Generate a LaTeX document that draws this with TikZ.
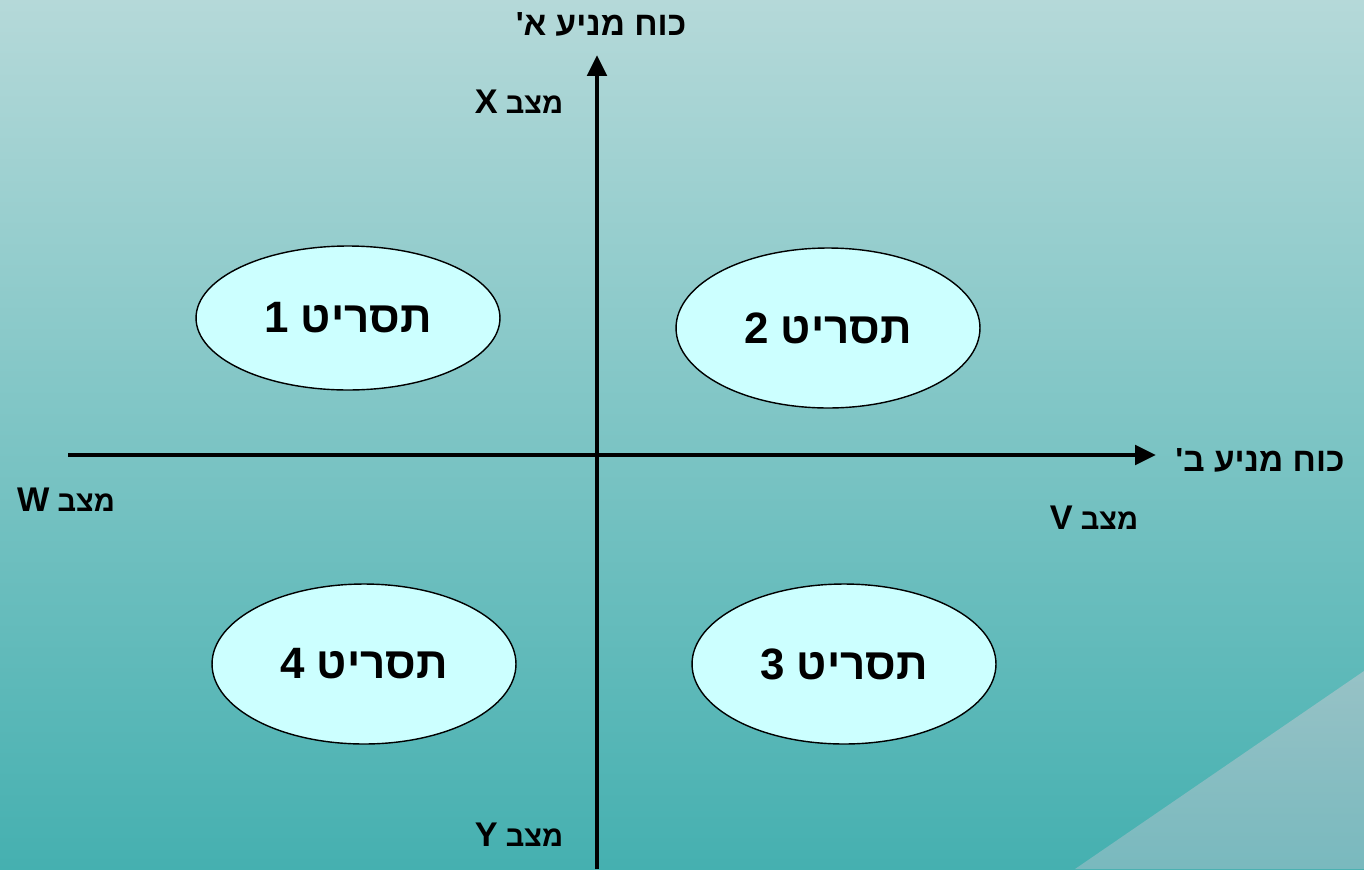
\documentclass[tikz,border=0pt]{standalone}
\usepackage{fontspec}
\setmainfont{Liberation Sans}
\newfontfamily\hebfont[Script=Hebrew]{Liberation Sans}
\TeXXeTstate=1
\usepackage{tikz}
\usetikzlibrary{shapes.geometric, arrows.meta, positioning}
\definecolor{BgTop}{HTML}{B5D9D9}
\definecolor{BgBottom}{HTML}{45B0B0}
\definecolor{CornerTop}{HTML}{97C2C6}
\definecolor{CornerBottom}{HTML}{79B9BE}
\definecolor{PlanFill}{HTML}{CCFFFF}
\newcommand{\stateletter}[1]{{\fontsize{19.5}{19}\selectfont #1}}

\begin{document}
\begin{tikzpicture}[x=0.02cm, y=-0.02cm, >={Triangle[length=0.42cm, width=0.38cm]},
  plan/.style={ellipse, draw=black, line width=0.8pt, fill=PlanFill,
               minimum width=6.08cm, minimum height=3.2cm, inner sep=0pt,
               font=\hebfont\bfseries\fontsize{25}{29}\selectfont},
  axislbl/.style={font=\hebfont\bfseries\fontsize{19}{22}\selectfont, inner sep=1pt},
  statelbl/.style={font=\hebfont\bfseries\fontsize{16.5}{19}\selectfont, inner sep=1pt},
  axis/.style={->, line width=2.8pt, color=black}
]

%% ---- Background ----
\useasboundingbox (0,0) rectangle (1364,869);
\shade[top color=BgTop, bottom color=BgBottom] (0,0) rectangle (1364,869);
\shade[top color=CornerTop, bottom color=CornerBottom]
  (1075,869) -- (1364,671) -- (1364,869) -- cycle;

%% ---- Axis end points ----
\coordinate (ybot) at (597,869);
\coordinate (ytop) at (597,55);
\coordinate (xleft) at (68,455);
\coordinate (xright) at (1156,455);

%% ---- Axes ----
\draw[axis] (ybot) -- (ytop);
\draw[axis] (xleft) -- (xright);

%% ---- Axis labels ----
\node[axislbl] (forceA) at (601,24) {\beginR כוח מניע א\textquotesingle\endR};
\node[axislbl] (forceB) at (1260,460) {\beginR כוח מניע ב\textquotesingle\endR};

%% ---- States ----
\node[statelbl] (stateX) at (519,102) {\beginR מצב \stateletter{X}\endR};
\node[statelbl] (stateW) at (66,500) {\beginR מצב \stateletter{W}\endR};
\node[statelbl] (stateV) at (1094,518) {\beginR מצב \stateletter{V}\endR};
\node[statelbl] (stateY) at (519,835) {\beginR מצב \stateletter{Y}\endR};

%% ---- Scenarios ----
\node[plan, minimum height=2.88cm] (plan1) at (348,318) {\beginR תסריט 1\endR};
\node[plan] (plan2) at (828,328) {\beginR תסריט 2\endR};
\node[plan] (plan3) at (844,664) {\beginR תסריט 3\endR};
\node[plan] (plan4) at (364,664) {\beginR תסריט 4\endR};

\end{tikzpicture}
\end{document}
